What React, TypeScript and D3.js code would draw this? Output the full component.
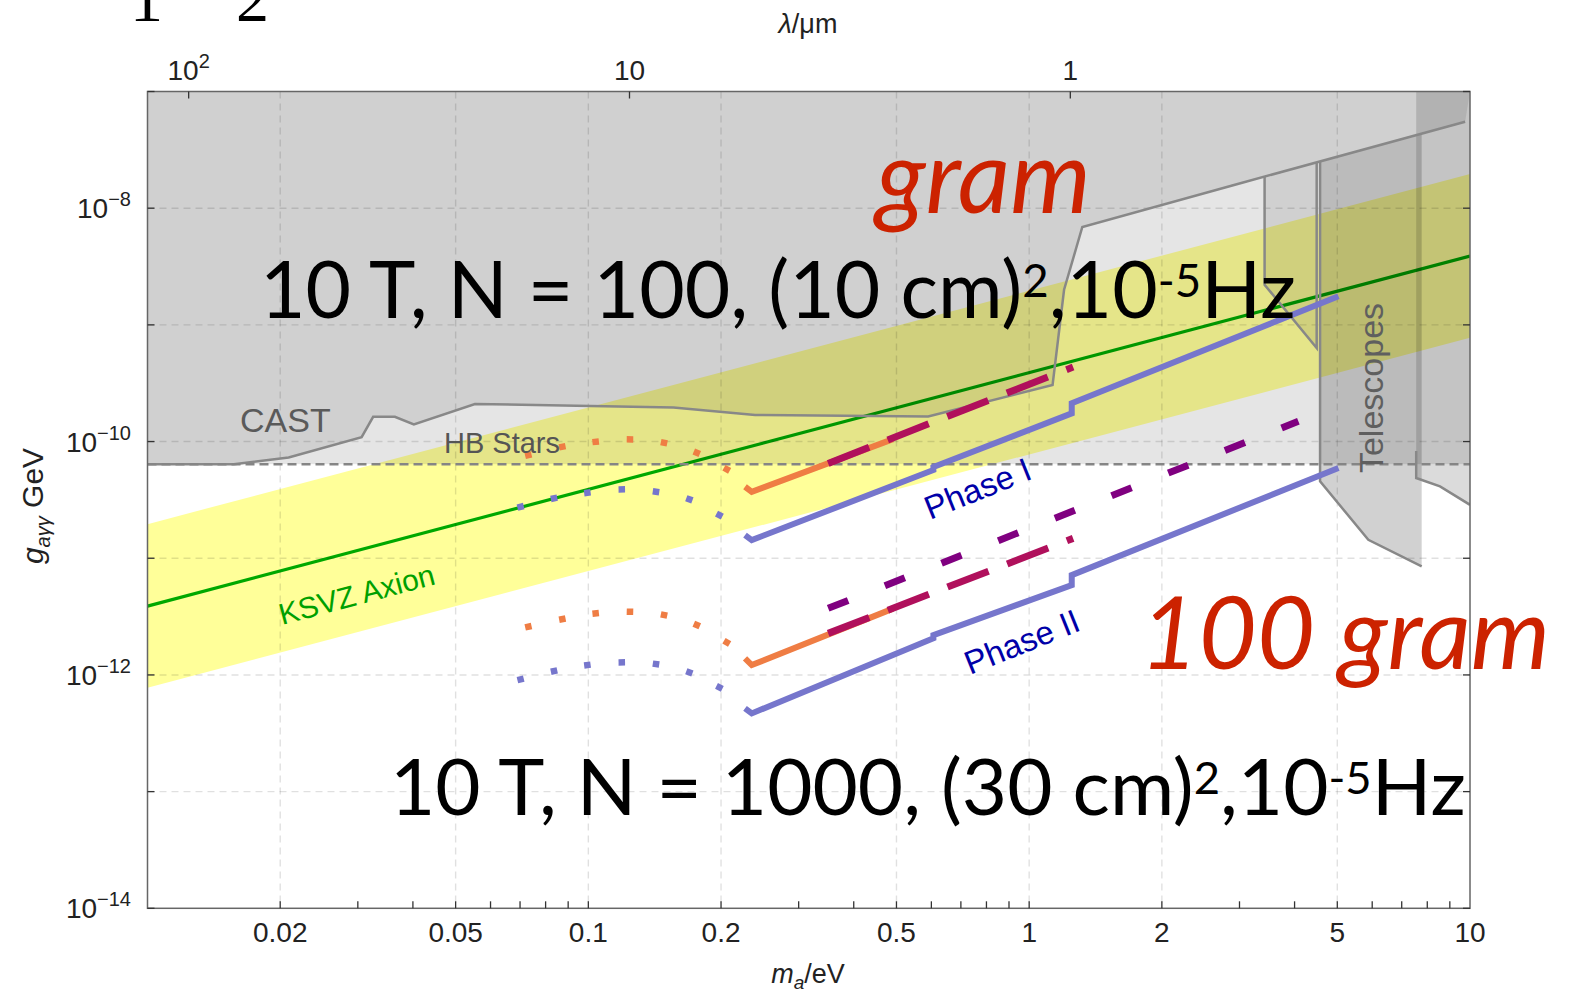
import React, { useEffect, useRef } from "react";
import * as d3 from "d3";

const width = 1580;
const height = 993;

// axis ticks
const massTicks = [0.02, 0.05, 0.1, 0.2, 0.5, 1, 2, 5, 10];
const massTickLabels = ["0.02", "0.05", "0.1", "0.2", "0.5", "1", "2", "5", "10"];
const couplingExponents = [-14, -13, -12, -11, -10, -9, -8, -7];
const couplingLabelExponents = [-14, -12, -10, -8];
const lambdaTicks = [100, 10, 1];
const lambdaTickBase = ["10", "10", "1"];
const lambdaTickSup = ["2", "", ""];
const hcEvUm = 1.23984; // lambda[um] = hc / m[eV]

// exclusion regions (m_a in eV, g in 1/GeV)
const hbCoupling = 6.4e-11;
const castMass = [0.01, 0.0157, 0.0209, 0.0306, 0.0325, 0.0364, 0.0402, 0.0553, 0.156, 0.239, 0.59, 1.13, 1.2, 1.32, 3.0, 9.75];
const castG = [6.4e-11, 6.4e-11, 7.3e-11, 1.09e-10, 1.63e-10, 1.63e-10, 1.4e-10, 2.1e-10, 1.96e-10, 1.69e-10, 1.64e-10, 3.05e-10, 2.0e-9, 6.9e-9, 1.63e-8, 5.5e-8];
const gapMass = [3.42, 3.42, 4.49, 4.49];
const gapG = [1.87e-8, 2.21e-9, 6.33e-10, 2.47e-8];
const telescopeMass = [4.57, 4.57, 5.88, 7.77, 7.77];
const telescopeG = [2.52e-8, 4.56e-11, 1.44e-11, 8.52e-12, 4.35e-8];
const stripMass = [7.55, 7.55, 8.55, 10, 10];
const stripG = [1e-7, 4.87e-11, 4.13e-11, 2.87e-11, 1e-7];
const stripEdgeMass = [7.55, 7.55, 8.55, 10];
const stripEdgeG = [8.3e-11, 4.87e-11, 4.13e-11, 2.87e-11];

// axion band and KSVZ
const bandMass = [0.01, 10];
const bandUpper = [1.96e-11, 1.96e-8];
const bandLower = [7.76e-13, 7.76e-10];
const ksvzMass = [0.01, 10];
const ksvzG = [3.89e-12, 3.89e-9];

// projected sensitivities
const phaseMass = [0.2267, 0.2348, 0.6064, 0.6064, 1.249, 1.249, 5.03];
const phase1G = [1.58e-11, 1.431e-11, 5.7e-11, 6.05e-11, 1.745e-10, 2.126e-10, 1.756e-9];
const phase2G = [5.17e-13, 4.68e-13, 2.06e-12, 2.19e-12, 5.89e-12, 7.17e-12, 5.93e-11];
const orangeMass = [0.2267, 0.2348, 0.491];
const orange1G = [4.1e-11, 3.71e-11, 1.05e-10];
const orange2G = [1.386e-12, 1.215e-12, 3.7e-12];
const magentaMass = [0.35, 1.258];
const magenta1G = [6.5e-11, 4.35e-10];
const magenta2G = [2.27e-12, 1.48e-11];
const purpleMass = [0.35, 4.08];
const purpleG = [3.72e-12, 1.49e-10];

// dotted low-mass continuations
const dotOrangeMass = [0.0731, 0.0873, 0.1039, 0.1243, 0.1485, 0.1762, 0.2061];
const dotOrange1G = [7.66e-11, 9.03e-11, 9.96e-11, 1.044e-10, 9.77e-11, 8.02e-11, 5.78e-11];
const dotOrange2G = [2.59e-12, 3.01e-12, 3.37e-12, 3.48e-12, 3.26e-12, 2.68e-12, 1.9e-12];
const dotBlueMass = [0.0702, 0.0836, 0.0995, 0.1191, 0.1424, 0.1695, 0.1983];
const dotBlue1G = [2.76e-11, 3.26e-11, 3.64e-11, 3.89e-11, 3.71e-11, 3.2e-11, 2.34e-11];
const dotBlue2G = [9.16e-13, 1.079e-12, 1.215e-12, 1.281e-12, 1.239e-12, 1.051e-12, 7.82e-13];

const sans = "'Liberation Sans', Arial, Helvetica, sans-serif";
const big = "Lato, 'Open Sans', sans-serif";

const App = () => {
  const svgRef = useRef(null);

  useEffect(() => {
    const svg = d3.select(svgRef.current);
    svg.selectAll("*").remove();

    const x = d3.scaleLog().domain([0.01, 10]).range([147.5, 1470]);
    const y = d3.scaleLog().domain([1e-14, 1e-7]).range([908.3, 91.5]);
    const [left, right] = x.range();
    const [bottom, top] = y.range();
    const line = d3.line<number[]>().x((d) => x(d[0])).y((d) => y(d[1]));
    const zip = (ms: number[], gs: number[]) => ms.map((m, i) => [m, gs[i]]);

    svg.append("rect").attr("width", width).attr("height", height).attr("fill", "#fff");

    svg
      .append("defs")
      .append("clipPath")
      .attr("id", "plot-clip")
      .append("rect")
      .attr("x", left)
      .attr("y", top)
      .attr("width", right - left)
      .attr("height", bottom - top);

    const plot = svg.append("g").attr("clip-path", "url(#plot-clip)");

    // HB stars: everything above the dashed line
    plot
      .append("rect")
      .attr("x", left)
      .attr("y", top)
      .attr("width", right - left)
      .attr("height", y(hbCoupling) - top)
      .attr("fill", "#e5e5e5");

    const castPts = zip(castMass, castG);
    plot
      .append("path")
      .attr("d", line([...castPts, [10, 1e-7], [0.01, 1e-7]]) + "Z")
      .attr("fill", "#d0d0d0");
    plot
      .append("path")
      .attr("d", line(zip(gapMass, gapG)) + "Z")
      .attr("fill", "#d0d0d0");

    // axion band + KSVZ line
    const area = d3
      .area<number[]>()
      .x((d) => x(d[0]))
      .y0((d) => y(d[1]))
      .y1((d) => y(d[2]));
    plot
      .append("path")
      .attr("d", area(bandMass.map((m, i) => [m, bandLower[i], bandUpper[i]])))
      .attr("fill", "#ffff99")
      .style("mix-blend-mode", "multiply");
    plot
      .append("path")
      .attr("d", line(zip(ksvzMass, ksvzG)))
      .attr("fill", "none")
      .attr("stroke", "#00a800")
      .attr("stroke-width", 3.2)
      .style("mix-blend-mode", "multiply");

    // telescopes and the right-hand strip
    plot
      .append("path")
      .attr("d", line(zip(telescopeMass, telescopeG)) + "Z")
      .attr("fill", "#000")
      .attr("fill-opacity", 0.18);
    plot
      .append("path")
      .attr("d", line(zip(stripMass, stripG)) + "Z")
      .attr("fill", "#000")
      .attr("fill-opacity", 0.14);

    // grid
    const grid = plot.append("g").attr("stroke", "#000").attr("stroke-opacity", 0.12).attr("stroke-width", 1.4).attr("stroke-dasharray", "7 5");
    massTicks.slice(0, -1).forEach((m) => {
      grid.append("line").attr("x1", x(m)).attr("x2", x(m)).attr("y1", top).attr("y2", bottom);
    });
    couplingExponents.slice(1, -1).forEach((e) => {
      grid.append("line").attr("x1", left).attr("x2", right).attr("y1", y(10 ** e)).attr("y2", y(10 ** e));
    });

    // region outlines
    const outline = plot.append("g").attr("fill", "none").attr("stroke", "#888").attr("stroke-width", 2.5);
    outline.append("path").attr("d", line(castPts));
    outline.append("path").attr("d", line(zip(gapMass, gapG)));
    outline.append("path").attr("d", line(zip(telescopeMass, telescopeG).slice(0, 4)));
    outline.append("path").attr("d", line(zip(stripEdgeMass, stripEdgeG)));

    plot
      .append("line")
      .attr("x1", left)
      .attr("x2", right)
      .attr("y1", y(hbCoupling))
      .attr("y2", y(hbCoupling))
      .attr("stroke", "#858585")
      .attr("stroke-width", 2.5)
      .attr("stroke-dasharray", "9 5");

    // sensitivity curves
    const curve = (pts: number[][], color: string, w: number, dash?: string) => {
      const p = plot
        .append("path")
        .attr("d", line(pts))
        .attr("fill", "none")
        .attr("stroke", color)
        .attr("stroke-width", w)
        .attr("stroke-linejoin", "miter");
      if (dash) p.attr("stroke-dasharray", dash);
    };
    curve(zip(orangeMass, orange1G), "#ef7d44", 6);
    curve(zip(orangeMass, orange2G), "#ef7d44", 6);
    curve(zip(magentaMass, magenta1G), "#b0105c", 7, "44 20");
    curve(zip(magentaMass, magenta2G), "#b0105c", 7, "44 20");
    curve(zip(purpleMass, purpleG), "#800080", 7, "21.5 39.5");
    curve(zip(phaseMass, phase1G), "#7676cc", 6);
    curve(zip(phaseMass, phase2G), "#7676cc", 6);

    const dots = (ms: number[], gs: number[], color: string, s: number) => {
      const pts = zip(ms, gs).map((d) => [x(d[0]), y(d[1])]);
      pts.forEach((p, i) => {
        const a = pts[Math.max(i - 1, 0)];
        const b = pts[Math.min(i + 1, pts.length - 1)];
        const ang = (Math.atan2(b[1] - a[1], b[0] - a[0]) * 180) / Math.PI;
        plot
          .append("rect")
          .attr("x", -s / 2)
          .attr("y", -s / 2)
          .attr("width", s)
          .attr("height", s)
          .attr("fill", color)
          .attr("transform", `translate(${p[0]},${p[1]}) rotate(${ang})`);
      });
    };
    dots(dotOrangeMass, dotOrange1G, "#ef7d44", 6.5);
    dots(dotOrangeMass, dotOrange2G, "#ef7d44", 6.5);
    dots(dotBlueMass, dotBlue1G, "#7676cc", 6.5);
    dots(dotBlueMass, dotBlue2G, "#7676cc", 6.5);

    // region and curve labels
    const angle = (m1: number, g1: number, m2: number, g2: number) =>
      (Math.atan2(y(g2) - y(g1), x(m2) - x(m1)) * 180) / Math.PI;
    const label = (txt: string, px: number, py: number, size: number, color: string, rot = 0, anchor = "start") =>
      svg
        .append("text")
        .attr("transform", `translate(${px},${py}) rotate(${rot})`)
        .attr("text-anchor", anchor)
        .attr("font-family", sans)
        .attr("font-size", size)
        .attr("fill", color)
        .text(txt);
    label("CAST", 240, 431.7, 34, "#5a5a5a");
    label("HB Stars", 444, 452.7, 29, "#555");
    label("Telescopes", 1383, 388, 34, "#5f5f5f", -90, "middle");
    label("KSVZ Axion", 282, 625, 30, "#00a000", angle(ksvzMass[0], ksvzG[0], ksvzMass[1], ksvzG[1]));
    const phaseAng = angle(phaseMass[5], phase1G[5], phaseMass[6], phase1G[6]);
    label("Phase I", 930, 520, 33, "#0000a8", phaseAng);
    label("Phase II", 970, 675, 33, "#0000a8", phaseAng);

    // frame, ticks and tick labels
    svg
      .append("rect")
      .attr("x", left)
      .attr("y", top)
      .attr("width", right - left)
      .attr("height", bottom - top)
      .attr("fill", "none")
      .attr("stroke", "#666")
      .attr("stroke-width", 1.5);

    const ticks = svg.append("g").attr("stroke", "#333").attr("stroke-width", 1.3);
    for (let e = -2; e < 1; e++) {
      for (let k = 1; k < 10; k++) {
        const m = k * 10 ** e;
        if (m <= 0.01) continue;
        ticks.append("line").attr("x1", x(m)).attr("x2", x(m)).attr("y1", bottom).attr("y2", bottom - 7);
      }
    }
    couplingExponents.forEach((e) => {
      const yy = y(10 ** e);
      ticks.append("line").attr("x1", left).attr("x2", left + 7).attr("y1", yy).attr("y2", yy);
      ticks.append("line").attr("x1", right).attr("x2", right - 7).attr("y1", yy).attr("y2", yy);
    });
    lambdaTicks.forEach((l) => {
      const xx = x(hcEvUm / l);
      ticks.append("line").attr("x1", xx).attr("x2", xx).attr("y1", top).attr("y2", top + 7);
    });

    const tickText = svg.append("g").attr("font-family", sans).attr("fill", "#222");
    massTicks.forEach((m, i) => {
      tickText
        .append("text")
        .attr("x", x(m))
        .attr("y", 941.7)
        .attr("text-anchor", "middle")
        .attr("font-size", 28)
        .text(massTickLabels[i]);
    });
    couplingLabelExponents.forEach((e) => {
      const t = tickText
        .append("text")
        .attr("x", 131)
        .attr("y", y(10 ** e) + 10)
        .attr("text-anchor", "end")
        .attr("font-size", 28);
      t.append("tspan").text("10");
      t.append("tspan").attr("font-size", 20).attr("dy", -12).text(`\u2212${-e}`);
    });
    lambdaTicks.forEach((l, i) => {
      const t = tickText
        .append("text")
        .attr("x", x(hcEvUm / l))
        .attr("y", 80)
        .attr("text-anchor", "middle")
        .attr("font-size", 28);
      t.append("tspan").text(lambdaTickBase[i]);
      if (lambdaTickSup[i]) t.append("tspan").attr("font-size", 20).attr("dy", -12).text(lambdaTickSup[i]);
    });

    // axis titles
    const xt = svg.append("text").attr("x", 808).attr("y", 983).attr("text-anchor", "middle").attr("font-family", sans).attr("font-size", 27).attr("fill", "#222");
    xt.append("tspan").attr("font-style", "italic").text("m");
    xt.append("tspan").attr("font-size", 19).attr("dy", 6).attr("font-style", "italic").text("a");
    xt.append("tspan").attr("dy", -6).text("/eV");

    const lt = svg.append("text").attr("x", 808).attr("y", 33).attr("text-anchor", "middle").attr("font-family", sans).attr("font-size", 27).attr("fill", "#222");
    lt.append("tspan").attr("font-style", "italic").text("\u03bb");
    lt.append("tspan").text("/\u03bcm");

    const yt = svg
      .append("text")
      .attr("transform", "translate(43,506) rotate(-90)")
      .attr("text-anchor", "middle")
      .attr("font-family", sans)
      .attr("font-size", 30)
      .attr("fill", "#222");
    yt.append("tspan").attr("font-style", "italic").text("g");
    yt.append("tspan").attr("font-size", 20).attr("dy", 7).attr("font-style", "italic").text("a\u03b3\u03b3");
    yt.append("tspan").attr("dy", -7).text(" GeV");

    // cut-off slide text at the top-left (cropped in the reference too)
    svg.append("text").attr("x", 130).attr("y", 21).attr("font-family", "'Liberation Serif', serif").attr("font-size", 66).text("1");
    svg.append("text").attr("x", 236).attr("y", 21).attr("font-family", "'Liberation Serif', serif").attr("font-size", 66).text("2");

    // overlay annotations, fitted to their widths in the reference
    type Part = { t: string; sup?: boolean };
    const fitText = (parts: Part[], px: number, py: number, target: number, size: number, color: string, italic: boolean) => {
      const build = (fs: number) => {
        const t = svg
          .append("text")
          .attr("x", px)
          .attr("y", py)
          .attr("font-family", big)
          .attr("font-size", fs)
          .attr("font-style", italic ? "italic" : "normal")
          .attr("fill", color);
        let raised = false;
        parts.forEach((p) => {
          const ts = t.append("tspan").text(p.t);
          if (p.sup) {
            ts.attr("font-size", fs * 0.58);
            if (!raised) ts.attr("dy", -0.27 * fs);
            raised = true;
          } else {
            ts.attr("font-size", fs);
            if (raised) ts.attr("dy", 0.27 * fs);
            raised = false;
          }
        });
        return t;
      };
      const first = build(size);
      const w = (first.node() as SVGTextElement).getBBox().width;
      first.remove();
      build(w > 0 ? (size * target) / w : size);
    };

    fitText([{ t: "gram" }], 876, 213, 218, 95, "#cc2200", true);
    fitText(
      [{ t: "10 T, N = 100, (10 cm)" }, { t: "2", sup: true }, { t: ",10" }, { t: "-5", sup: true }, { t: "Hz" }],
      260,
      318,
      1036,
      84,
      "#000",
      false
    );
    fitText([{ t: "100 gram" }], 1140, 669, 410, 110, "#cc2200", true);
    fitText(
      [{ t: "10 T, N = 1000, (30 cm)" }, { t: "2", sup: true }, { t: ",10" }, { t: "-5", sup: true }, { t: "Hz" }],
      390,
      815,
      1076,
      84,
      "#000",
      false
    );
  }, []);

  return (
    <svg
      ref={svgRef}
      width={width}
      height={height}
      style={{ position: "absolute", left: 0, top: 0, display: "block" }}
    ></svg>
  );
};

export default App;
